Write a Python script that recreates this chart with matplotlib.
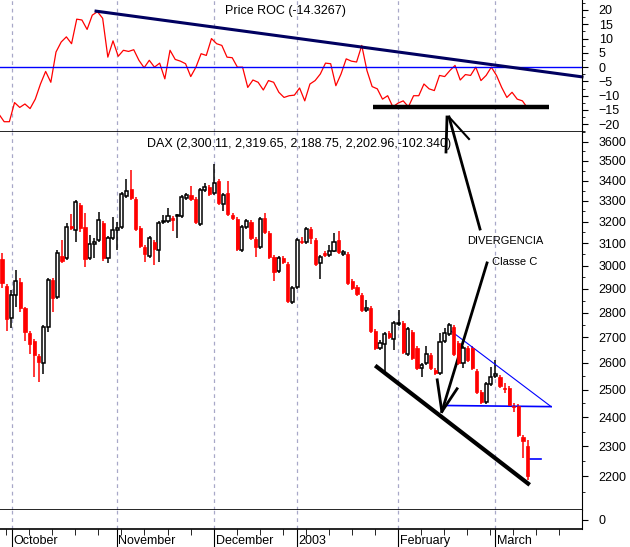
import numpy as np
import matplotlib
matplotlib.use("Agg")
import matplotlib.pyplot as plt
from matplotlib.lines import Line2D
from matplotlib.ticker import FixedLocator, NullFormatter, NullLocator

plt.rcParams["font.family"] = "Liberation Sans"

opens = [3029,2912,2778,2874,2929,2819,2717,2686,2627,2600,2741,2938,2866,3043,3034,3181,3162,3280,3176,3034,
         3098,3116,3195,3034,3125,3162,3176,3323,3358,3309,3171,3084,3043,3107,3070,3199,3204,3218,3228,3228,
         3314,3328,3309,3190,3353,3368,3338,3398,3285,3338,3232,3213,3070,3176,3199,3120,3084,3218,3148,3039,
         2977,3034,3007,2845,2908,3111,3107,3167,3116,3012,3056,3048,3066,3116,3052,3052,2934,2908,2874,2811,
         2819,2725,2658,2674,2717,2694,2754,2758,2635,2721,2658,2582,2600,2631,2574,2563,2686,2713,2741,2678,
         2600,2658,2658,2570,2492,2456,2521,2551,2548,2507,2507,2442,2442,2332,2300.11]
highs = [3056,2921,2895,2981,2947,2825,2725,2694,2635,2749,2947,2947,3070,3116,3195,3237,3304,3290,3242,3139,
         3126,3246,3204,3134,3223,3199,3343,3408,3453,3319,3181,3093,3134,3116,3204,3232,3266,3228,3237,3328,
         3338,3373,3319,3363,3388,3378,3485,3408,3338,3398,3242,3223,3185,3213,3209,3130,3223,3242,3158,3048,
         3043,3043,3016,2912,3125,3130,3176,3176,3125,3048,3066,3093,3148,3158,3070,3061,2942,2916,2882,2853,
         2828,2733,2690,2721,2725,2766,2811,2766,2741,2729,2666,2600,2666,2639,2582,2717,2737,2758,2749,2686,
         2666,2666,2666,2578,2499,2529,2585,2612,2555,2525,2514,2452,2449,2339,2319.65]
lows = [2904,2725,2737,2823,2803,2686,2635,2548,2529,2559,2721,2803,2857,3012,3025,3162,3107,3153,2994,3025,
        3034,3107,3021,3012,3116,3070,3167,3314,3304,3158,3079,3016,3034,3003,3016,3190,3195,3158,3125,3218,
        3304,3299,3190,3181,3343,3323,3328,3280,3251,3228,3209,3066,3061,3167,3116,3039,3075,3144,3030,2934,
        2968,3007,2840,2836,2899,3098,3098,3098,2999,2942,3039,3039,3061,3052,3043,2916,2895,2870,2803,2803,
        2717,2650,2650,2566,2694,2650,2745,2635,2627,2612,2574,2548,2593,2574,2555,2555,2678,2705,2627,2593,
        2582,2604,2574,2485,2449,2449,2514,2544,2507,2488,2438,2420,2332,2261,2188.75]
closes = [2925,2774,2874,2934,2819,2721,2674,2631,2604,2741,2938,2861,3056,3021,3176,3171,3294,3171,3030,3098,
          3107,3209,3034,3125,3162,3171,3333,3348,3314,3167,3088,3052,3125,3075,3195,3204,3228,3209,3232,3319,
          3328,3309,3199,3353,3368,3333,3388,3290,3328,3237,3218,3075,3176,3204,3125,3084,3213,3153,3039,2972,
          3034,3016,2849,2904,3116,3107,3167,3125,3007,3039,3048,3066,3107,3061,3061,2925,2904,2878,2811,2819,
          2725,2658,2678,2713,2701,2758,2758,2643,2733,2620,2582,2593,2635,2582,2563,2682,2717,2749,2635,2600,
          2658,2612,2582,2492,2456,2521,2548,2559,2514,2503,2445,2438,2339,2319,2202.96]

roc = [-16.5,-19.1,-19.1,-12.4,-14.1,-12.9,-14.5,-11.2,-5.9,-1.5,-5.3,5.3,8.8,10.6,8.2,16.8,16.5,13.2,18.2,19.4,
       17.1,3.5,9.2,3.8,5.9,5.5,6.1,2.4,-0.2,2.4,0.0,1.4,-4.1,5.9,2.7,2.1,1.2,-3.3,0.0,4.7,
       4.1,10.0,8.2,7.6,3.5,3.3,0.0,0.0,-7.1,-4.5,-5.3,-8.0,-4.7,-5.3,-8.8,-10.6,-10.0,-9.8,-7.3,-11.8,
       -5.9,-4.7,-2.4,1.4,1.2,-6.5,-2.4,2.9,2.1,1.8,7.6,-1.2,-6.8,-7.6,-11.2,-10.0,-13.9,-12.6,-11.8,-13.9,
       -10.0,-10.0,-5.9,-7.6,-8.2,-2.9,-3.3,-1.2,0.6,-4.5,-2.6,-2.9,0.0,-4.7,-2.9,0.0,-2.9,-7.1,-10.6,-8.8,
       -11.2,-11.8,-14.33]

month_labels = ["October", "November", "December", "2003", "February", "March"]
month_idx = [2.2, 24.9, 46.0, 64.0, 85.9, 107.0]
price_ticks = [2200, 2300, 2400, 2500, 2600, 2700, 2800, 2900, 3000, 3100, 3200, 3300, 3400, 3500, 3600]
roc_ticks = [20, 15, 10, 5, 0, -5, -10, -15, -20]

W, H = 630, 547
fig = plt.figure(figsize=(W / 100, H / 100), dpi=100)
fig.patch.set_facecolor("white")

def rect(l, t, r, b):
    return [l / W, 1 - b / H, (r - l) / W, (b - t) / H]

XL = (-0.434, 125.8)
ax_r = fig.add_axes(rect(0, 0, 582, 132))
ax_p = fig.add_axes(rect(0, 132, 582, 510))
ax_v = fig.add_axes(rect(0, 510, 582, 529))

for ax in (ax_r, ax_p, ax_v):
    ax.set_xlim(*XL)
    ax.spines["left"].set_visible(False)
    ax.spines["top"].set_visible(False)
    ax.yaxis.tick_right()
    ax.tick_params(axis="y", labelsize=9, length=4, pad=8, direction="out")
    ax.tick_params(axis="y", which="minor", length=2, direction="out")
    ax.xaxis.set_major_locator(NullLocator())
    for m in month_idx:
        ax.axvline(m, color="#a8a8c8", lw=0.9, ls=(0, (3, 3)), zorder=0)

# ROC panel
n = len(roc)
rx = np.linspace(-0.65, len(closes) - 1, n)
ax_r.plot(rx, roc, color="red", lw=0.9)
ax_r.axhline(0, color="blue", lw=1)
ax_r.set_ylim(-22.7, 23.5)
ax_r.set_yticks(roc_ticks)
ax_r.yaxis.set_minor_locator(FixedLocator(np.arange(-22.5, 23, 2.5)))
ax_r.plot([20.4, 125.8], [19.6, -3.4], color="#000060", lw=2.2, clip_on=False)
ax_r.plot([80.5, 118.6], [-14, -14], color="black", lw=3.2, solid_capstyle="butt")
ax_r.text(61.5, 19.8, "Price ROC (-14.3267)", fontsize=9, ha="center", va="center")
ax_r.spines["bottom"].set_linewidth(1.2)

# Price panel
idx = np.arange(len(closes))
o = np.array(opens, float); c = np.array(closes, float)
h = np.array(highs, float); l = np.array(lows, float)
up = c >= o
ax_p.set_yscale("log")
ax_p.vlines(idx[up], l[up], h[up], color="black", lw=1.1, zorder=2)
ax_p.vlines(idx[~up], l[~up], h[~up], color="red", lw=1.1, zorder=2)
bw = 0.68
ax_p.bar(idx[up], c[up] - o[up], bottom=o[up], width=bw, facecolor="white", edgecolor="black", lw=1.1, zorder=3)
ax_p.bar(idx[~up], o[~up] - c[~up], bottom=c[~up], width=bw, facecolor="red", edgecolor="red", lw=0.5, zorder=3)
ax_p.set_ylim(2094, 3652)
ax_p.yaxis.set_major_locator(FixedLocator(price_ticks))
ax_p.yaxis.set_minor_locator(FixedLocator(np.arange(2150, 3651, 100)))
ax_p.set_yticklabels([str(t) for t in price_ticks])
ax_p.yaxis.set_minor_formatter(NullFormatter())
ax_p.spines["bottom"].set_linewidth(1.2)
ax_p.text(31.5, 3590, "DAX (2,300.11, 2,319.65, 2,188.75, 2,202.96,-102.340)", fontsize=9, va="center")

# annotation lines
ax_p.plot([81.3, 114.1], [2585, 2177], color="black", lw=3)
ax_p.plot([96.8, 119.1], [2733, 2438], color="blue", lw=0.8)
ax_p.plot([96.5, 119.1], [2442, 2438], color="blue", lw=1.2)
ax_p.plot([114.0, 117.0], [2258, 2258], color="blue", lw=1.2)
ax_p.plot([105.2, 95.4], [3012, 2420], color="black", lw=2)
ax_p.plot([94.4, 95.4, 98.7], [2536, 2420, 2503], color="black", lw=2)
ax_p.text(109.1, 3112, "DIVERGENCIA", fontsize=8, ha="center", va="center")
ax_p.text(111.1, 3015, "Classe C", fontsize=8, ha="center", va="center")

def figline(xs, ys, lw=2):
    fig.add_artist(Line2D([x / W for x in xs], [1 - y / H for y in ys], color="black", lw=lw,
                          transform=fig.transFigure))
figline([447, 446], [117, 152])
figline([449, 480], [117, 229])
figline([449, 469], [117, 139], lw=1.5)

# volume panel
ax_v.set_ylim(-1, 1)
ax_v.set_yticks([0])
ax_v.set_yticklabels(["0"])
ax_v.spines["bottom"].set_linewidth(1.2)
ax_v.xaxis.set_major_locator(FixedLocator(month_idx))
ax_v.xaxis.set_minor_locator(FixedLocator(np.arange(0.9, 126, 5)))
ax_v.tick_params(axis="x", which="major", length=14, direction="out", labelbottom=False)
ax_v.tick_params(axis="x", which="minor", length=4, direction="out")
for lab, m in zip(month_labels, month_idx):
    ax_v.text(m + 0.35, -1.6, lab, fontsize=9, ha="left", va="top", clip_on=False)

fig.savefig("out.png", dpi=100, facecolor="white")
